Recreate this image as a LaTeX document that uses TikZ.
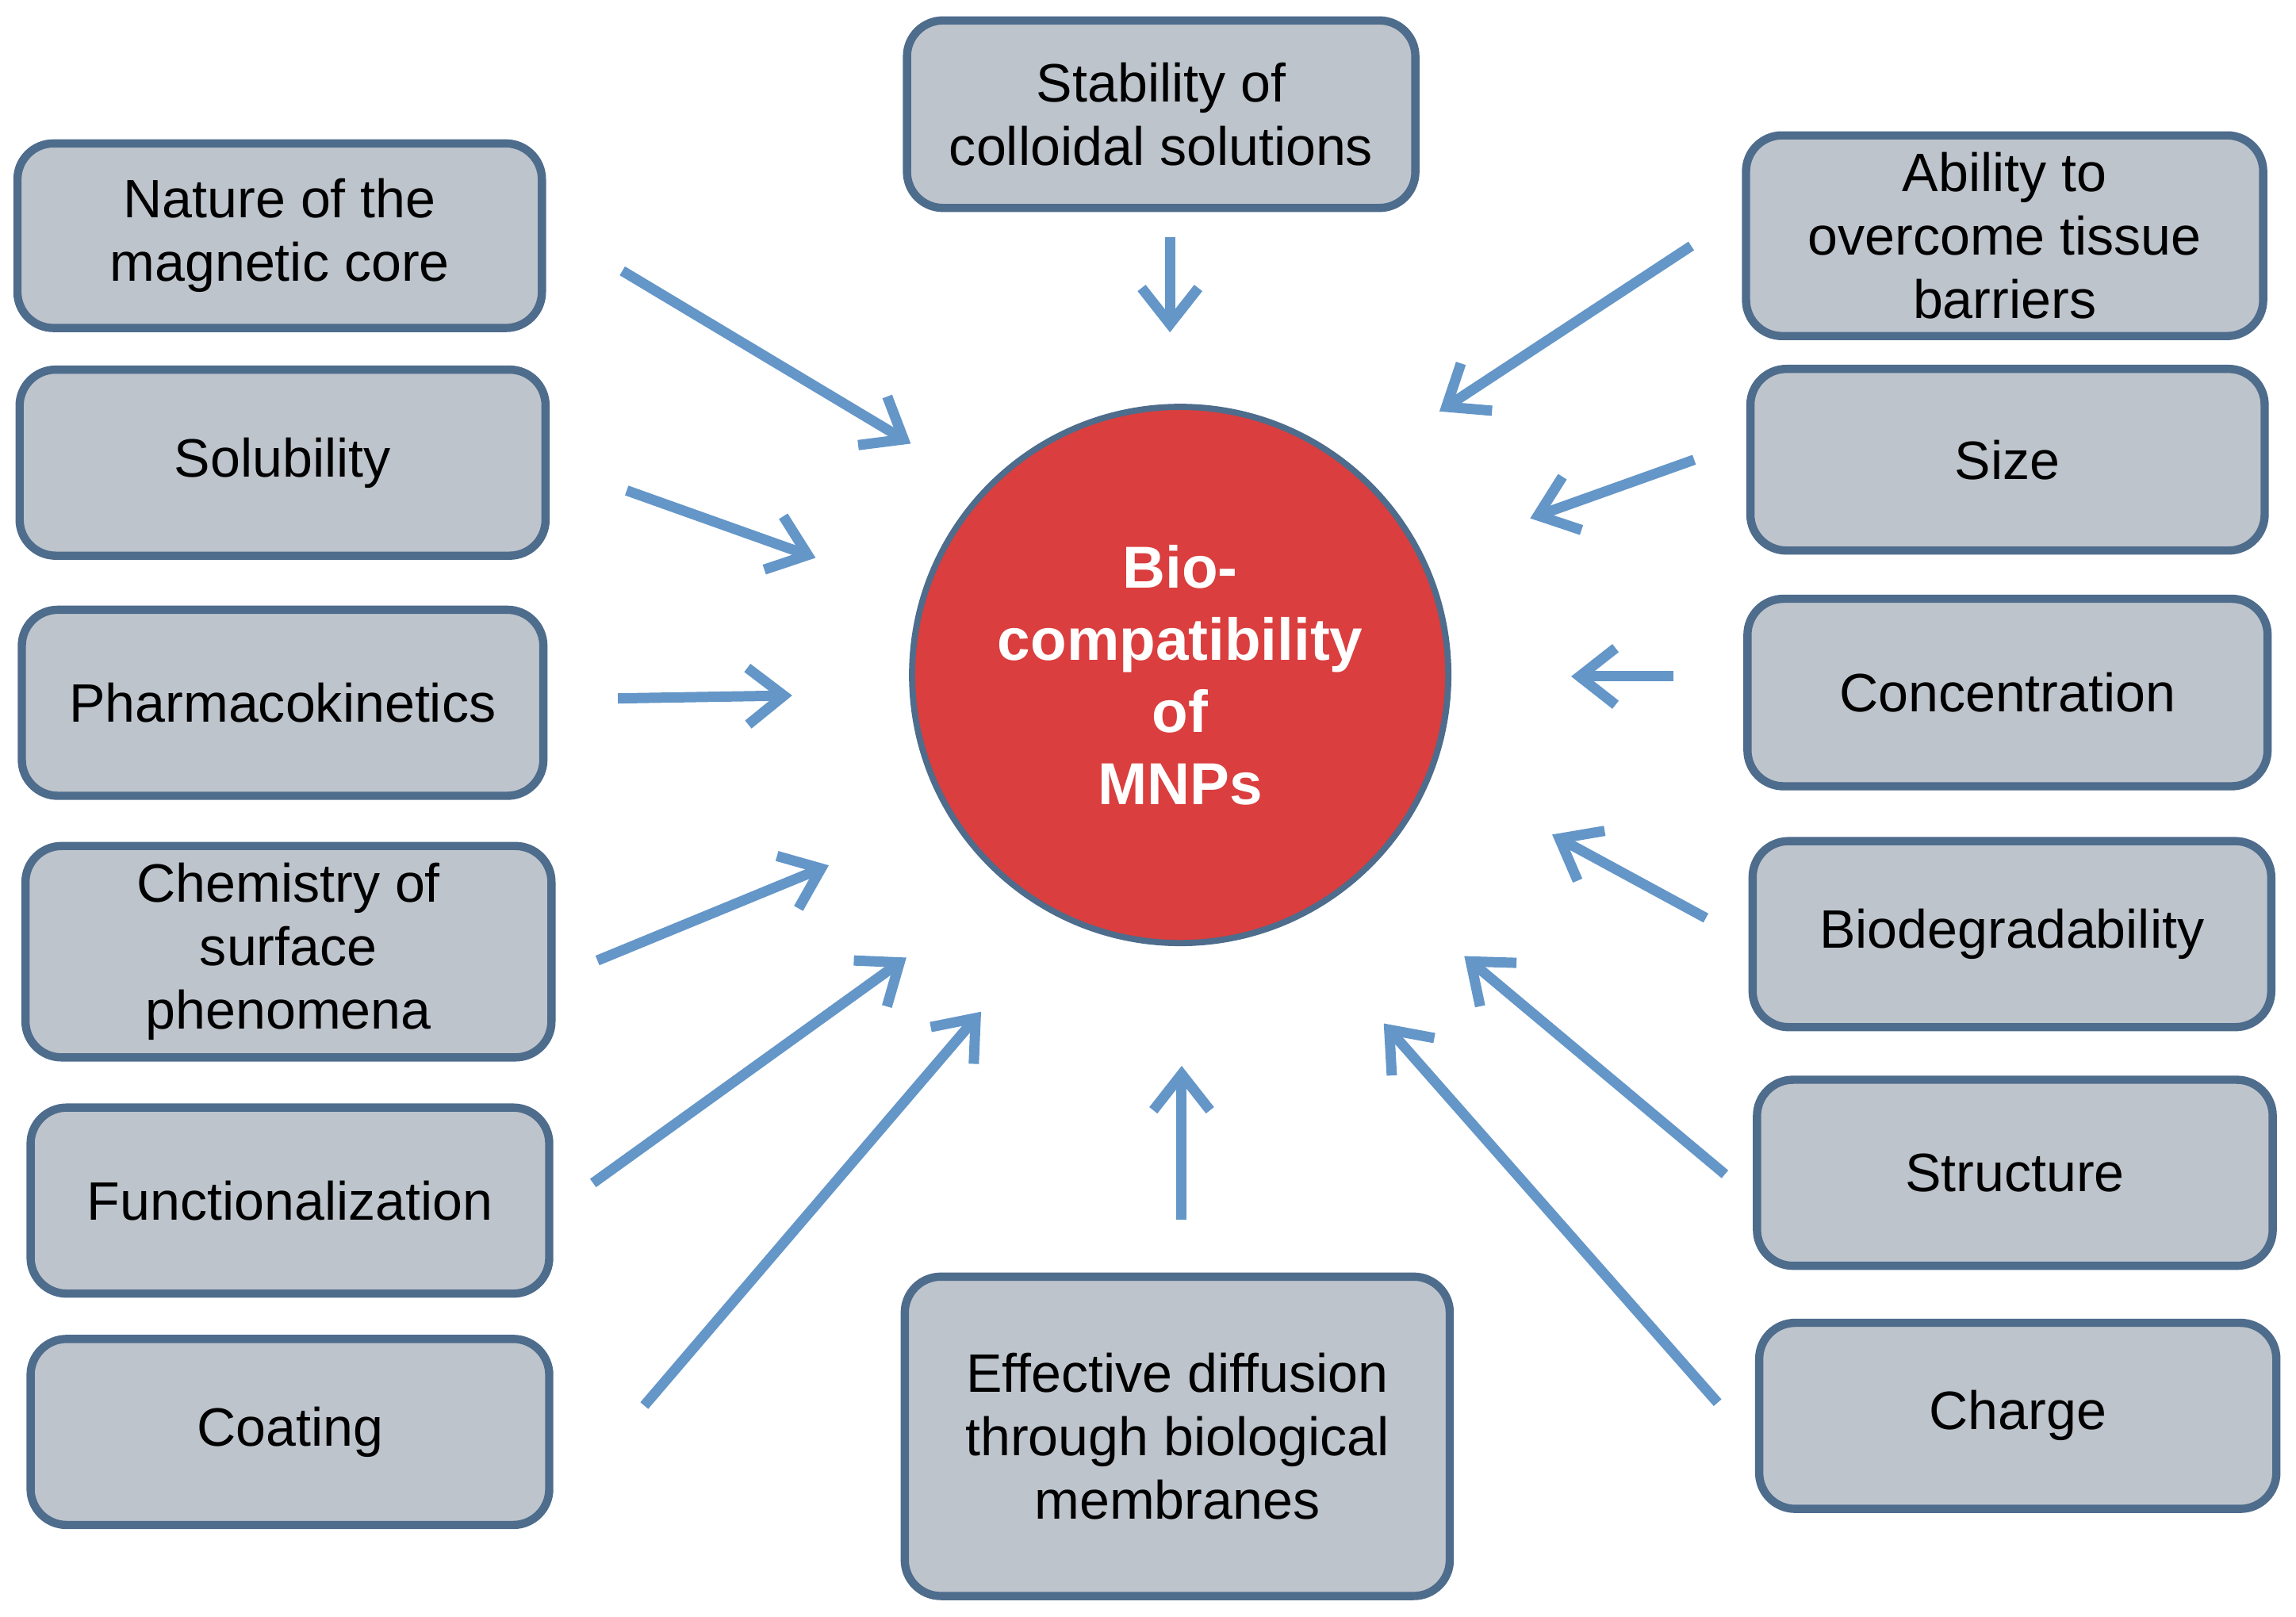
\documentclass[tikz,border=0pt]{standalone}
\usepackage{fontspec}
\setmainfont{Liberation Sans}
\usetikzlibrary{arrows.meta}
\definecolor{boxfill}{RGB}{190,196,204}
\definecolor{boxline}{RGB}{78,108,140}
\definecolor{arr}{RGB}{100,150,200}
\definecolor{disc}{RGB}{218,62,62}
\tikzset{
 fbox/.style={draw=boxline,line width=1.6pt,fill=boxfill,rounded corners=7pt,align=center,font=\fontsize{10.5}{12.3}\selectfont},
 arrw/.style={draw=arr,line width=2pt,-{Straight Barb[length=7pt,width=11pt]}},
}
\begin{document}
\begin{tikzpicture}[x=0.01cm,y=-0.01cm]
\useasboundingbox (0,0) rectangle (1568,1104);
\node[fbox,minimum width=347\pgflinewidth*0+3.47cm,minimum height=1.28cm] (stab) at (793,78) {Stability of\\colloidal solutions};
\node[fbox,minimum width=3.58cm,minimum height=1.26cm] (nat) at (191,161) {Nature of the\\magnetic core};
\node[fbox,minimum width=3.59cm,minimum height=1.27cm] (sol) at (193,316) {Solubility};
\node[fbox,minimum width=3.56cm,minimum height=1.27cm] (pha) at (193,480) {Pharmacokinetics};
\node[fbox,minimum width=3.59cm,minimum height=1.27cm] (che) at (197,650) {Chemistry of\\surface\\phenomena};
\node[fbox,minimum width=3.54cm,minimum height=1.27cm] (fun) at (198,820) {Functionalization};
\node[fbox,minimum width=3.54cm,minimum height=1.27cm] (coa) at (198,978) {Coating};
\node[fbox,minimum width=3.72cm,minimum height=2.18cm] (eff) at (804,981) {Effective diffusion\\through biological\\membranes};
\node[fbox,minimum width=3.53cm,minimum height=1.27cm] (abi) at (1369,161) {Ability to\\overcome tissue\\barriers};
\node[fbox,minimum width=3.51cm,minimum height=1.24cm] (siz) at (1371,314) {Size};
\node[fbox,minimum width=3.55cm,minimum height=1.28cm] (con) at (1371,473) {Concentration};
\node[fbox,minimum width=3.54cm,minimum height=1.27cm] (bio) at (1374,638) {Biodegradability};
\node[fbox,minimum width=3.52cm,minimum height=1.27cm] (str) at (1376,801) {Structure};
\node[fbox,minimum width=3.53cm,minimum height=1.27cm] (cha) at (1378,967) {Charge};
\node[circle,draw=boxline,line width=1.2pt,fill=disc,minimum size=3.66cm,text=white,align=center,font=\bfseries\fontsize{11.5}{14}\selectfont] (mnp) at (806,461) {Bio-\\compatibility\\of\\MNPs};
% arrow ends
\foreach \n/\a/\b/\c/\d in {a1/425/185/622/303,a2/428/335/557/381,a3/422/477/541/475,a4/408/656/566/591,a5/405/808/619/654,a6/440/960/670/691,a7/807/833/807/728,a8/1173/958/945/699,a9/1178/802/1000/653,a10/1165/627/1060/570,a11/1143/462/1073/462,a12/1157/314/1045/354,a13/1155/168/983/281,a14/799/162/799/227}{
 \coordinate (\n s) at (\a,\b);
 \coordinate (\n e) at (\c,\d);
 \draw[arrw] (\n s) -- (\n e);
}
\end{tikzpicture}
\end{document}
